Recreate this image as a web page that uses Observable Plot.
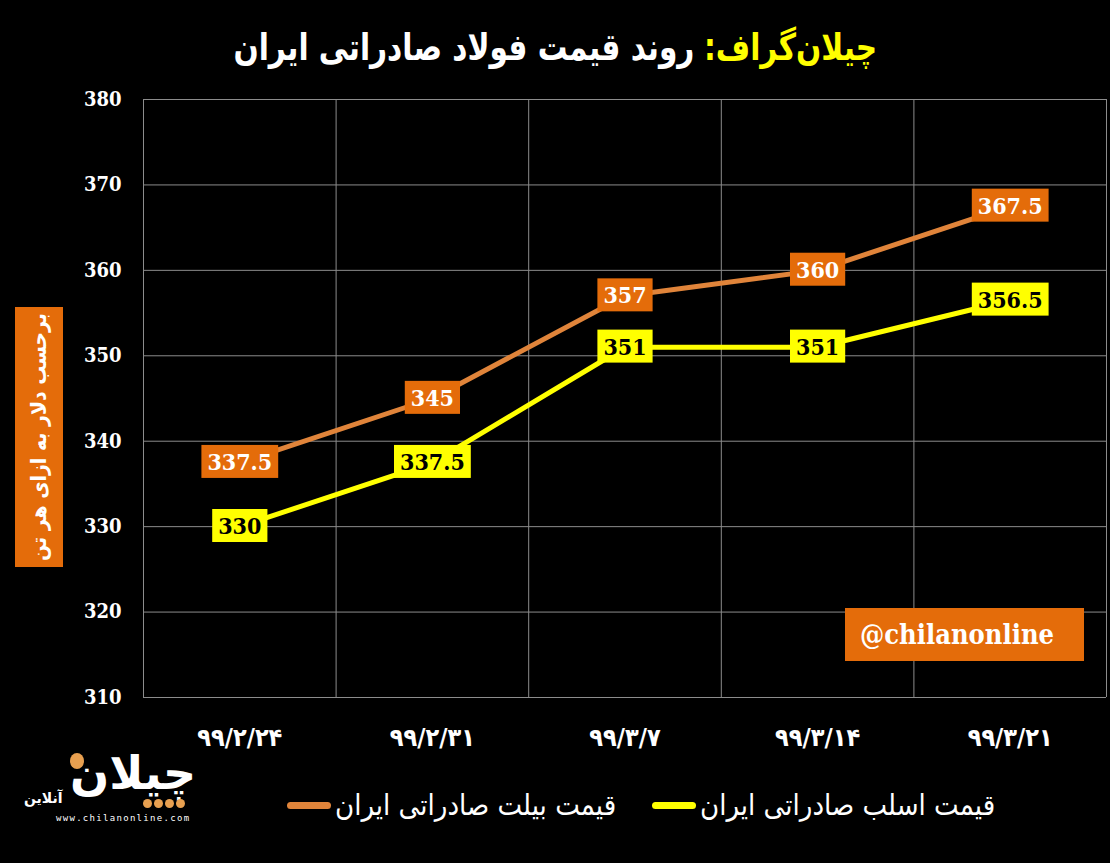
<!DOCTYPE html>
<html>
<head>
<meta charset="utf-8">
<script src="https://cdn.jsdelivr.net/npm/d3@7"></script>
<script src="https://cdn.jsdelivr.net/npm/@observablehq/plot@0.6"></script>
<style>
  html, body { margin: 0; padding: 0; background: #000; }
  body { width: 1110px; height: 863px; overflow: hidden; position: relative; font-family: "DejaVu Sans", sans-serif; }
  #title { height: 84px; display: flex; align-items: center; justify-content: center; padding-top: 10px; box-sizing: border-box; }
  #title .inner { direction: rtl; font-weight: bold; font-size: 37px; color: #fff; transform: scaleX(0.8); white-space: nowrap; }
  #title .brand { color: #ffff00; margin-left: 12px; }
  #chart svg { display: block; }
  #ylabel { position: absolute; left: 15px; top: 307px; width: 48px; height: 260px; background: #e46c0a; overflow: hidden; }
  #ylabel span { position: absolute; left: 24px; top: 130px; transform: translate(-50%, -50%) rotate(-90deg);
                 color: #fff; font-size: 21px; font-weight: bold; direction: rtl; white-space: nowrap;
                 font-family: "DejaVu Sans Condensed", "DejaVu Sans", sans-serif; }
  #handle { position: absolute; left: 845px; top: 608px; width: 239px; height: 53px; background: #e46c0a;
            color: #fff; font-family: "DejaVu Serif Condensed", "DejaVu Serif", serif; font-weight: bold; font-size: 27px;
            box-sizing: border-box; padding-left: 15px; line-height: 53px; }
  #legend { position: absolute; left: 0; top: 786px; width: 1110px; height: 38px;
            color: #fff; font-size: 29px; font-family: "DejaVu Sans Condensed", "DejaVu Sans", sans-serif; }
  #legend .item { display: flex; align-items: center; position: absolute; top: 0; }
  #legend .sw { width: 44px; height: 7px; border-radius: 4px; margin-right: 4px; }
  #legend .txt { direction: rtl; white-space: nowrap; line-height: 38px; }
  #logo { position: absolute; left: 0; top: 0; width: 200px; height: 863px; pointer-events: none; }
  #logo .big { position: absolute; left: 70px; top: 748px; font-size: 46px; font-weight: bold; line-height: 50px; color: #fff; direction: rtl; }
  #logo .small { position: absolute; left: 24px; top: 790px; font-size: 14px; font-weight: bold; color: #fff; direction: rtl; line-height: 17px; }
  #logo .dot { position: absolute; background: #e8a050; border-radius: 50%; }
  #logo .url { position: absolute; left: 56px; top: 813px; font-size: 9px; letter-spacing: 1.3px; color: #fff; font-family: "DejaVu Sans Mono", monospace; line-height: 11px; }
</style>
</head>
<body>
<div id="title"><div class="inner"><span class="brand">چیلان‌گراف:</span><span>روند قیمت فولاد صادراتی ایران</span></div></div>
<div id="chart"></div>
<div id="ylabel"><span>برحسب دلار به ازای هر تن</span></div>
<div id="handle">@chilanonline</div>
<div id="legend"></div>
<div id="logo">
  <div class="big">چیلان</div>
  <div class="small">آنلاین</div>
  <div class="dot" style="left:70px;top:753px;width:14px;height:16px"></div>
  <div class="dot" style="left:143px;top:799px;width:9px;height:9px"></div>
  <div class="dot" style="left:154px;top:799px;width:9px;height:9px"></div>
  <div class="dot" style="left:165px;top:799px;width:9px;height:9px"></div>
  <div class="dot" style="left:176px;top:799px;width:9px;height:9px"></div>
  <div class="url">www.chilanonline.com</div>
</div>
<script>
// ---- data ----
const dates = ["۹۹/۲/۲۴", "۹۹/۲/۳۱", "۹۹/۳/۷", "۹۹/۳/۱۴", "۹۹/۳/۲۱"];
const billet = [337.5, 345, 357, 360, 367.5];
const slab = [330, 337.5, 351, 351, 356.5];
const yTicks = [310, 320, 330, 340, 350, 360, 370, 380];
const seriesNames = ["قیمت بیلت صادراتی ایران", "قیمت اسلب صادراتی ایران"];
const lineColors = ["#e0843a", "#ffff00"];
const boxColors = ["#e46c0a", "#ffff00"];
const labelColors = ["#ffffff", "#000000"];

const seriesValues = [billet, slab];
const rows = [];
seriesValues.forEach((vals, s) => {
  vals.forEach((v, i) => rows.push({series: s, name: seriesNames[s], idx: i, pos: i + 0.5, date: dates[i], value: v}));
});

const labelFont = "'DejaVu Serif Condensed', 'DejaVu Serif', serif";

const chart = Plot.plot({
  width: 1110,
  height: 680,
  marginLeft: 143,
  marginRight: 4,
  marginTop: 15,
  marginBottom: 67,
  style: {background: "#000", color: "#fff"},
  x: {domain: [0, dates.length]},
  y: {domain: [yTicks[0], yTicks[yTicks.length - 1]]},
  marks: [
    Plot.gridX({ticks: d3.range(0, dates.length + 1), stroke: "#8c8c8c", strokeOpacity: 1, strokeWidth: 1}),
    Plot.gridY({ticks: yTicks, stroke: "#8c8c8c", strokeOpacity: 1, strokeWidth: 1}),
    Plot.axisX({ticks: dates.map((d, i) => i + 0.5), tickFormat: v => dates[Math.floor(v)], tickSize: 0, tickPadding: 31,
                fontSize: 25, fontWeight: "bold", fontFamily: "'DejaVu Sans Condensed', 'DejaVu Sans', sans-serif", fill: "#fff", label: null}),
    Plot.axisY({ticks: yTicks, tickSize: 0, tickPadding: 22, fontSize: 20, fontWeight: "bold",
                fontFamily: labelFont, fill: "#fff", label: null}),
    Plot.line(rows, {x: "pos", y: "value", z: "series", stroke: d => lineColors[d.series], strokeWidth: 5}),
    Plot.text(rows, {x: "pos", y: "value", text: d => String(d.value), fill: d => labelColors[d.series],
                     fontSize: 23, fontWeight: "bold", fontFamily: labelFont, className: "vlabel"})
  ]
});
document.getElementById("chart").appendChild(chart);

// label background boxes, sized from the rendered text
const ns = "http://www.w3.org/2000/svg";
const labelGroup = chart.querySelector("g.vlabel");
if (labelGroup) {
  labelGroup.querySelectorAll("text").forEach(t => {
    const b = t.getBBox();
    const fill = t.getAttribute("fill");
    const r = document.createElementNS(ns, "rect");
    const padX = 6, h = 33;
    r.setAttribute("x", b.x - padX);
    r.setAttribute("y", b.y + b.height / 2 - h / 2);
    r.setAttribute("width", b.width + 2 * padX);
    r.setAttribute("height", h);
    r.setAttribute("fill", fill === "#000000" || fill === "black" ? boxColors[1] : boxColors[0]);
    if (t.getAttribute("transform")) r.setAttribute("transform", t.getAttribute("transform"));
    t.parentNode.insertBefore(r, t);
  });
}

// legend
const legend = document.getElementById("legend");
const legendLeft = [287, 652];
seriesNames.forEach((n, s) => {
  const item = document.createElement("div");
  item.className = "item";
  item.style.left = legendLeft[s] + "px";
  const sw = document.createElement("div");
  sw.className = "sw";
  sw.style.background = lineColors[s];
  const tx = document.createElement("div");
  tx.className = "txt";
  tx.textContent = n;
  item.appendChild(sw);
  item.appendChild(tx);
  legend.appendChild(item);
});
</script>
</body>
</html>
